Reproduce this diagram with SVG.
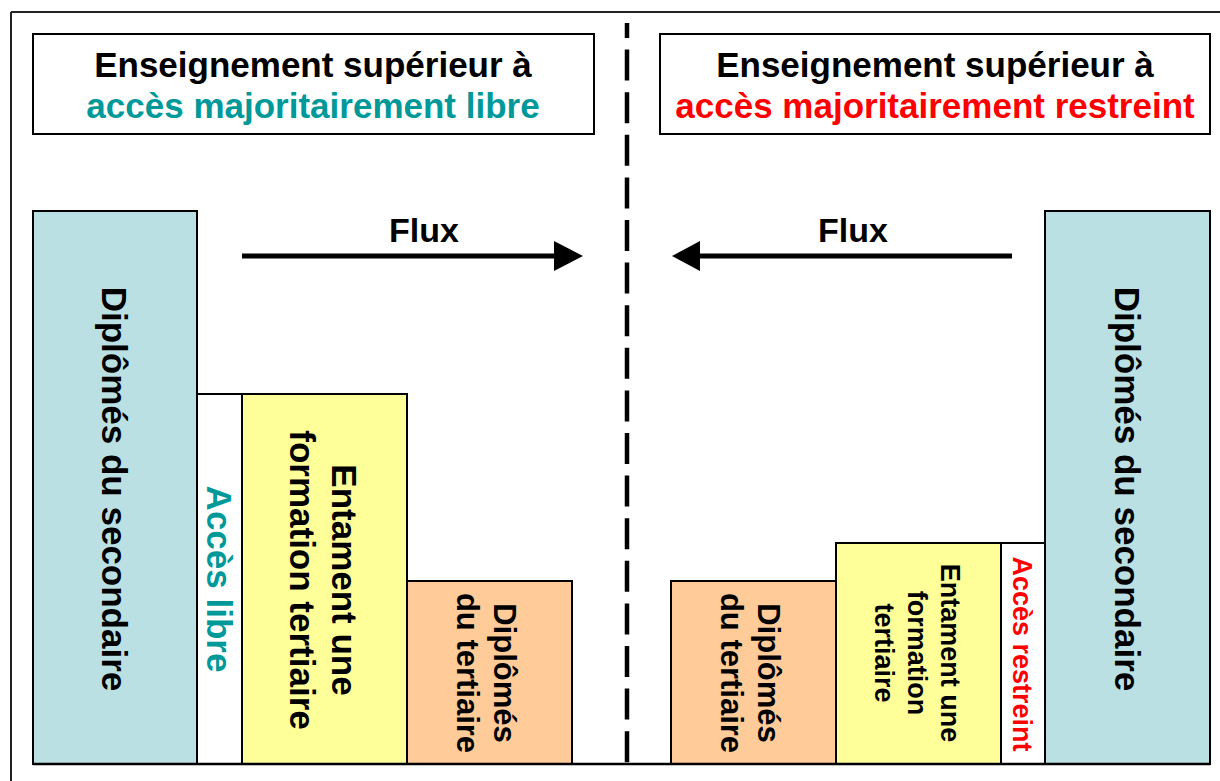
<svg xmlns="http://www.w3.org/2000/svg" width="1220" height="781" viewBox="0 0 1220 781">
<style>
text{font-family:"Liberation Sans",Arial,Helvetica,sans-serif;font-weight:bold;fill:#000;text-anchor:middle}
.box{stroke:#000;stroke-width:2}
.blue{fill:#BBE0E3}
.yellow{fill:#FFFF99}
.orange{fill:#FFCC99}
.white{fill:#FFFFFF}
.teal{fill:#009999}
.red{fill:#FF0000}
.t35{font-size:35px}
.t31{font-size:31px}
.t27{font-size:27px}
</style>
<rect width="1220" height="781" fill="#fff"/>
<g id="frame">
<line x1="11" y1="12" x2="1220" y2="12" stroke="#222" stroke-width="2"/>
<line x1="11" y1="12" x2="11" y2="781" stroke="#222" stroke-width="2"/>
</g>
<g id="title-left">
<rect class="box white" x="33" y="34" width="561" height="100"/>
<text class="t35" x="313" y="77">Enseignement supérieur à</text>
<text class="t35 teal" x="313" y="118">accès majoritairement libre</text>
</g>
<g id="title-right">
<rect class="box white" x="660" y="34" width="550" height="100"/>
<text class="t35" x="935" y="77">Enseignement supérieur à</text>
<text class="t35 red" x="935" y="118">accès majoritairement restreint</text>
</g>
<g id="left-secondaire">
<rect class="box blue" x="33" y="211" width="164" height="553"/>
<text class="t35" transform="translate(102,489) rotate(90)">Diplômés du secondaire</text>
</g>
<g id="left-acces">
<rect class="box white" x="197" y="394" width="45" height="370"/>
<text class="t35 teal" transform="translate(207,579) rotate(90)">Accès libre</text>
</g>
<g id="left-entament">
<rect class="box yellow" x="242" y="394" width="165" height="370"/>
<text class="t35" transform="translate(332,580) rotate(90)"><tspan x="0" y="0">Entament une</tspan><tspan x="0" y="42">formation tertiaire</tspan></text>
</g>
<g id="left-tertiaire">
<rect class="box orange" x="407" y="581" width="165" height="183"/>
<text class="t31" transform="translate(494,673) rotate(90)"><tspan x="0" y="0">Diplômés</tspan><tspan x="0" y="37">du tertiaire</tspan></text>
</g>
<g id="right-tertiaire">
<rect class="box orange" x="671" y="581" width="165" height="183"/>
<text class="t31" transform="translate(758,673) rotate(90)"><tspan x="0" y="0">Diplômés</tspan><tspan x="0" y="37">du tertiaire</tspan></text>
</g>
<g id="right-entament">
<rect class="box yellow" x="836" y="543" width="165" height="221"/>
<text class="t27" transform="translate(941,653) rotate(90)"><tspan x="0" y="0">Entament une</tspan><tspan x="0" y="33">formation</tspan><tspan x="0" y="66">tertiaire</tspan></text>
</g>
<g id="right-acces">
<rect class="box white" x="1001" y="543" width="44" height="221"/>
<text class="t27 red" transform="translate(1013,654) rotate(90)">Accès restreint</text>
</g>
<g id="right-secondaire">
<rect class="box blue" x="1045" y="211" width="165" height="553"/>
<text class="t35" transform="translate(1115,489) rotate(90)">Diplômés du secondaire</text>
</g>
<g id="connectors">
<line x1="33" y1="764" x2="1210" y2="764" stroke="#000" stroke-width="2.5"/>
<line x1="627" y1="23" x2="627" y2="764" stroke="#000" stroke-width="4.5" stroke-dasharray="31 11.6" stroke-dashoffset="16"/>
<line x1="242" y1="256" x2="556" y2="256" stroke="#000" stroke-width="5"/>
<polygon points="583,256 554,241 554,271" fill="#000"/>
<line x1="1012" y1="256" x2="698" y2="256" stroke="#000" stroke-width="5"/>
<polygon points="672,256 700,241 700,271" fill="#000"/>
</g>
<g id="labels">
<text class="t35" x="424" y="242" style="font-size:34px">Flux</text>
<text class="t35" x="853" y="242" style="font-size:34px">Flux</text>
</g>
</svg>
